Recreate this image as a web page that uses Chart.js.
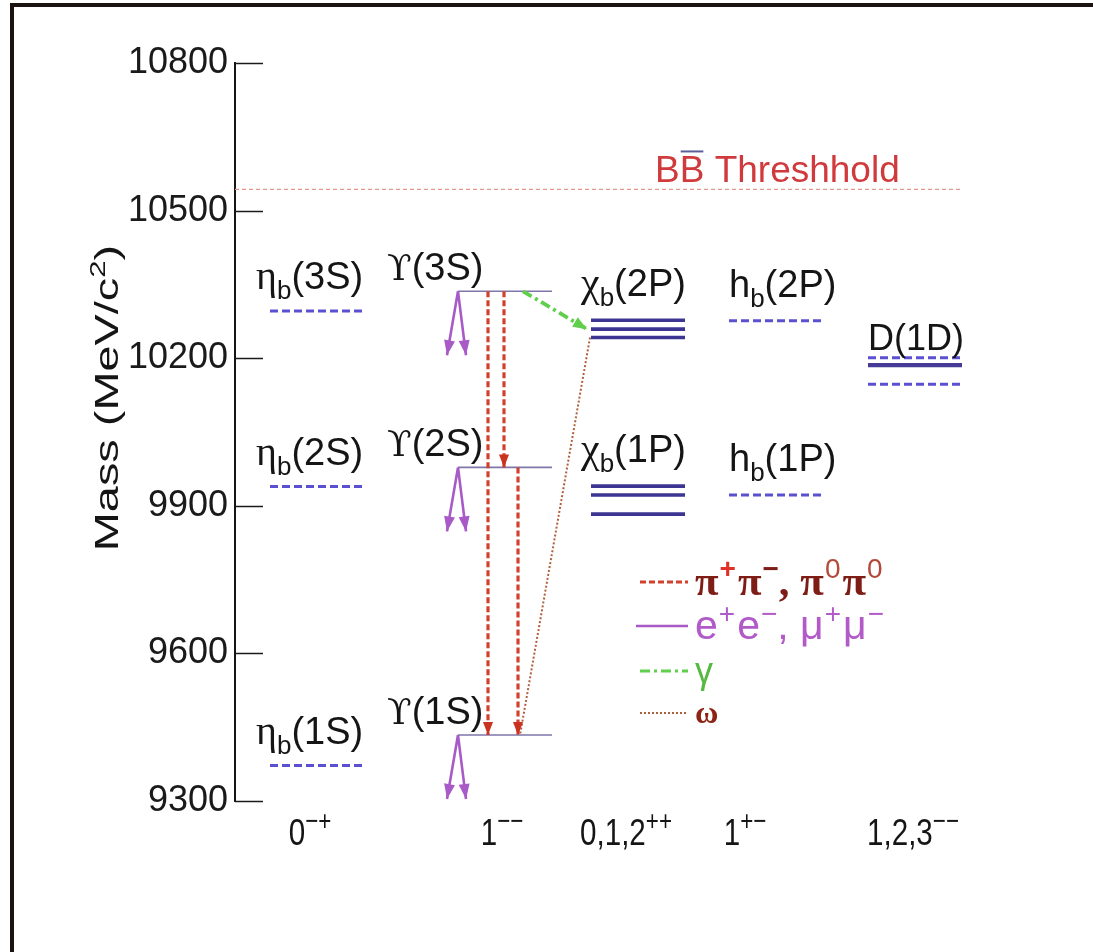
<!DOCTYPE html>
<html><head><meta charset="utf-8">
<script src="https://cdn.jsdelivr.net/npm/chart.js@4.4.1/dist/chart.umd.min.js"></script>
<style>html,body{margin:0;padding:0;background:#fff;}canvas{display:block;}</style>
</head><body>
<canvas id="c" width="1093" height="952"></canvas>
<script>
// ---------------- data ----------------
const yTicks = [9300, 9600, 9900, 10200, 10500, 10800];
const jpcBase = ['0', '1', '0,1,2', '1', '1,2,3'];
const jpcSup  = ['\u2212+', '\u2212\u2212', '++', '+\u2212', '\u2212\u2212'];
const etaBStates = ['3S', '2S', '1S'];
const etaBMass   = [10296, 9939, 9372];
const upsStates  = ['3S', '2S', '1S'];
const upsMass    = [10336, 9978, 9434];
const chiB2PMass = [10277, 10259, 10242];
const chiB1PMass = [9940, 9922, 9883];
const hBStates   = ['2P', '1P'];
const hBMass     = [10276, 9922];
const d1DMass    = [10201, 10186, 10147];
const d1DSolid   = [false, true, false];
const bbThreshold = 10543;
const pipiFrom = ['3S', '3S', '2S'];
const pipiTo   = ['1S', '2S', '1S'];

// ---------------- layout (positions / sizes, not data) ----------------
const L = {
  colX: [0.82, 2.70, 4.03, 5.41, 6.80], halfW: 0.47,
  jpcX: [0.75, 2.67, 3.91, 5.10, 6.78],
  pipiDx: [-0.17, -0.01, 0.13], gammaDx0: 0.18, omegaDx1: 0.15,
  lepDrop: 130, lepL: -0.11, lepR: 0.08, thrEnd: 7.28
};
const cx = L.colX, hw = L.halfW;
function segs(list) {
  const out = [];
  list.forEach(([x1, y1, x2, y2]) => { out.push({x: x1, y: y1}, {x: x2, y: y2}, {x: x2, y: null}); });
  out.pop();
  return out;
}
const lvl = (c, m) => [cx[c] - hw, m, cx[c] + hw, m];
const upsBy = Object.fromEntries(upsStates.map((s, i) => [s, upsMass[i]]));

const dashedLevels = segs([
  ...etaBMass.map(m => lvl(0, m)),
  ...hBMass.map(m => lvl(3, m)),
  ...d1DMass.filter((m, i) => !d1DSolid[i]).map(m => lvl(4, m))
]);
const chiLevels = segs([...chiB2PMass, ...chiB1PMass].map(m => lvl(2, m)));
const dSolid = segs(d1DMass.filter((m, i) => d1DSolid[i]).map(m => lvl(4, m)));
const upsLevels = segs(upsMass.map(m => lvl(1, m)));
const pipi = segs(pipiFrom.map((f, i) => [cx[1] + L.pipiDx[i], upsBy[f], cx[1] + L.pipiDx[i], upsBy[pipiTo[i]]]));
const gamma = segs([[cx[1] + L.gammaDx0, upsMass[0], cx[2] - hw - 0.04, chiB2PMass[1]]]);
const omega = segs([[cx[2] - hw - 0.01, chiB2PMass[2], cx[1] + L.omegaDx1, upsMass[2]]]);
const lepton = segs(upsMass.flatMap(m => [
  [cx[1] - hw, m, cx[1] - hw + L.lepL, m - L.lepDrop],
  [cx[1] - hw, m, cx[1] - hw + L.lepR, m - L.lepDrop]]));
const threshold = [{x: 0, y: bbThreshold}, {x: L.thrEnd, y: bbThreshold}];

const base = {showLine: true, pointRadius: 0, pointHoverRadius: 0, spanGaps: false, fill: false, tension: 0};
const datasets = [
  {...base, label: 'pipi', data: pipi, borderColor: '#d2412f', borderWidth: 3.2, borderDash: [6, 3], order: 1, arrowHead: {len: 13, w: 10, c: '#c8321f'}},
  {...base, label: 'gamma', data: gamma, borderColor: '#5fcf4c', borderWidth: 3.8, borderDash: [10, 4, 3, 4], order: 1, arrowHead: {len: 14, w: 11, c: '#5fcf4c'}},
  {...base, label: 'omega', data: omega, borderColor: '#b0603c', borderWidth: 2, borderDash: [2, 2], order: 2},
  {...base, label: 'lepton', data: lepton, borderColor: '#a85ac6', borderWidth: 2.6, order: 2, arrowHead: {len: 15, w: 11, c: '#a85ac6'}},
  {...base, label: 'ups', data: upsLevels, borderColor: '#7f76aa', borderWidth: 1.6, order: 5},
  {...base, label: 'chi', data: chiLevels, borderColor: '#3c3592', borderWidth: 3.6, order: 5},
  {...base, label: 'dsolid', data: dSolid, borderColor: '#463c98', borderWidth: 4.2, order: 5},
  {...base, label: 'dashed', data: dashedLevels, borderColor: '#5b50d0', borderWidth: 3, borderDash: [8, 4], order: 5},
  {...base, label: 'thr', data: threshold, borderColor: '#e69494', borderWidth: 1.2, borderDash: [4, 3], order: 9}
];

// ---------------- text helpers ----------------
const SANS = "'Liberation Sans', Arial, Helvetica, sans-serif";
const SERIF = "'Liberation Serif', 'Times New Roman', serif";
function rich(ctx, x, y, parts, sx = 1, align = 'left') {
  ctx.save();
  ctx.textBaseline = 'alphabetic'; ctx.textAlign = 'left';
  let w = 0;
  parts.forEach(p => { ctx.font = p.f; w += ctx.measureText(p.t).width + (p.gap || 0); });
  ctx.translate(x, y); ctx.scale(sx, 1);
  let px = align === 'center' ? -w / 2 : 0;
  parts.forEach(p => {
    ctx.font = p.f; ctx.fillStyle = p.c || '#151515';
    ctx.fillText(p.t, px, p.dy || 0);
    px += ctx.measureText(p.t).width + (p.gap || 0);
  });
  ctx.restore();
  return w * sx;
}

const deco = {
  id: 'deco',
  beforeDraw(chart) {
    const ctx = chart.ctx;
    ctx.save();
    ctx.fillStyle = '#fff'; ctx.fillRect(0, 0, chart.width, chart.height);
    ctx.fillStyle = '#1c1212';
    ctx.fillRect(10, 3, chart.width - 10, 4);
    ctx.fillRect(10, 3, 4, chart.height - 3);
    ctx.restore();
  },
  afterDatasetsDraw(chart) {
    const ctx = chart.ctx;
    chart.data.datasets.forEach((ds, di) => {
      if (!ds.arrowHead) return;
      const pts = chart.getDatasetMeta(di).data, d = ds.data, h = ds.arrowHead;
      for (let i = 1; i < d.length; i++) {
        if (d[i].y == null || d[i - 1].y == null) continue;
        if (i < d.length - 1 && d[i + 1].y != null) continue;
        const a = pts[i - 1], b = pts[i];
        const ang = Math.atan2(b.y - a.y, b.x - a.x);
        ctx.save();
        ctx.translate(b.x, b.y); ctx.rotate(ang);
        ctx.fillStyle = h.c;
        ctx.beginPath(); ctx.moveTo(0, 0); ctx.lineTo(-h.len, -h.w / 2); ctx.lineTo(-h.len, h.w / 2); ctx.closePath(); ctx.fill();
        ctx.restore();
      }
    });
  },
  afterDraw(chart) {
    const ctx = chart.ctx, xs = chart.scales.x, ys = chart.scales.y;
    const X = v => xs.getPixelForValue(v), Y = v => ys.getPixelForValue(v);
    // inward tick marks
    ctx.save(); ctx.strokeStyle = '#1a1a1a'; ctx.lineWidth = 1.5;
    yTicks.forEach(v => { const y = Math.round(Y(v)) + 0.5; ctx.beginPath(); ctx.moveTo(xs.left, y); ctx.lineTo(xs.left + 28, y); ctx.stroke(); });
    ctx.restore();

    // y-axis title (stretched along its length like the picture)
    ctx.save();
    ctx.translate(106, 398); ctx.rotate(-Math.PI / 2);
    rich(ctx, 0, 12, [
      {t: 'Mass (MeV/c', f: '33px ' + SANS},
      {t: '2', f: '22px ' + SANS, dy: -13},
      {t: ')', f: '33px ' + SANS}], 1.42, 'center');
    ctx.restore();

    const LBL = '38px ' + SANS, SUB = '26px ' + SANS;
    etaBStates.forEach((s, i) => rich(ctx, X(cx[0] - hw) - 14, Y(etaBMass[i]) - 22, [
      {t: '\u03B7', f: '40px ' + SERIF}, {t: 'b', f: SUB, dy: 10}, {t: '(' + s + ')', f: LBL}]));
    upsStates.forEach((s, i) => rich(ctx, X(cx[1] - hw) - 71, Y(upsMass[i]) - 11, [
      {t: '\u03D2', f: "36px 'DejaVu Serif', serif"}, {t: '(' + s + ')', f: LBL}]));
    [['2P', chiB2PMass], ['1P', chiB1PMass]].forEach(([s, arr]) => rich(ctx, X(cx[2] - hw) - 10, Y(Math.max(...arr)) - 24, [
      {t: '\u03C7', f: '42px ' + SERIF}, {t: 'b', f: SUB, dy: 10}, {t: '(' + s + ')', f: LBL}]));
    hBStates.forEach((s, i) => rich(ctx, X(cx[3] - hw), Y(hBMass[i]) - 24, [
      {t: 'h', f: LBL}, {t: 'b', f: SUB, dy: 10}, {t: '(' + s + ')', f: LBL}]));
    rich(ctx, X(cx[4] - hw), Y(Math.max(...d1DMass)) - 8, [{t: 'D(1D)', f: '36px ' + SANS}]);

    // BB threshold label
    const tx = X(4.20), ty = Y(bbThreshold) - 7, TF = '37px ' + SANS;
    ctx.save(); ctx.font = TF; const wB = ctx.measureText('B').width; ctx.restore();
    rich(ctx, tx, ty, [{t: 'BB Threshhold', f: TF, c: '#d03a3c'}], 1.0);
    ctx.save(); ctx.strokeStyle = '#5a5f9a'; ctx.lineWidth = 2;
    ctx.beginPath(); ctx.moveTo(tx + wB + 1, ty - 31); ctx.lineTo(tx + 2 * wB - 1, ty - 31); ctx.stroke(); ctx.restore();

    // J^PC labels
    jpcBase.forEach((b, i) => rich(ctx, X(L.jpcX[i]), 845, [
      {t: b, f: '37px ' + SANS}, {t: jpcSup[i], f: '28px ' + SANS, dy: -15}], 0.8, 'center'));

    // legend
    const rows = [582, 626, 671, 713], lx0 = 640, lx1 = 688, tx0 = 695;
    ctx.save();
    ctx.lineWidth = 3; ctx.strokeStyle = '#d2412f'; ctx.setLineDash([6, 3]);
    ctx.beginPath(); ctx.moveTo(lx0, rows[0]); ctx.lineTo(lx1, rows[0]); ctx.stroke();
    ctx.setLineDash([]); ctx.strokeStyle = '#a85ac6'; ctx.lineWidth = 2.5;
    ctx.beginPath(); ctx.moveTo(lx0 - 4, rows[1]); ctx.lineTo(lx1, rows[1]); ctx.stroke();
    ctx.setLineDash([10, 4, 3, 4]); ctx.strokeStyle = '#5fcf4c'; ctx.lineWidth = 3;
    ctx.beginPath(); ctx.moveTo(lx0, rows[2]); ctx.lineTo(lx1, rows[2]); ctx.stroke();
    ctx.setLineDash([2, 2]); ctx.strokeStyle = '#b0603c'; ctx.lineWidth = 2;
    ctx.beginPath(); ctx.moveTo(lx0, rows[3]); ctx.lineTo(lx1, rows[3]); ctx.stroke();
    ctx.restore();
    const PI = 'bold 43px ' + SERIF, SUP = 'bold 28px ' + SANS, dr = '#7e1c16';
    rich(ctx, tx0, rows[0] + 13, [
      {t: '\u03C0', f: PI, c: dr, gap: 1}, {t: '+', f: SUP, c: '#e0302a', dy: -17, gap: 2},
      {t: '\u03C0', f: PI, c: dr, gap: 1}, {t: '\u2212', f: SUP, c: dr, dy: -17},
      {t: ', ', f: PI, c: dr},
      {t: '\u03C0', f: PI, c: dr, gap: 1}, {t: '0', f: '28px ' + SANS, c: '#b24a3a', dy: -17, gap: 2},
      {t: '\u03C0', f: PI, c: dr, gap: 1}, {t: '0', f: '28px ' + SANS, c: '#b24a3a', dy: -17}]);
    const E = '41px ' + SANS, ES = '28px ' + SANS, pc = '#b25ac8';
    rich(ctx, tx0, rows[1] + 13, [
      {t: 'e', f: E, c: pc, gap: 1}, {t: '+', f: ES, c: pc, dy: -16, gap: 2},
      {t: 'e', f: E, c: pc, gap: 1}, {t: '\u2212', f: ES, c: pc, dy: -16},
      {t: ', ', f: E, c: pc},
      {t: '\u03BC', f: E, c: pc, gap: 1}, {t: '+', f: ES, c: pc, dy: -16, gap: 2},
      {t: '\u03BC', f: E, c: pc, gap: 1}, {t: '\u2212', f: ES, c: pc, dy: -16}]);
    rich(ctx, tx0, rows[2] + 12, [{t: '\u03B3', f: '36px ' + SANS, c: '#55b944'}]);
    rich(ctx, tx0, rows[3] + 10, [{t: '\u03C9', f: 'bold 32px ' + SERIF, c: '#8e2414'}]);
  }
};

new Chart(document.getElementById('c'), {
  type: 'scatter',
  data: {datasets},
  options: {
    responsive: false, animation: false, devicePixelRatio: 1,
    layout: {padding: {left: 0, top: 63, right: 58, bottom: 151}},
    plugins: {legend: {display: false}, tooltip: {enabled: false}},
    events: [],
    scales: {
      x: {type: 'linear', min: 0, max: 8, display: false},
      y: {
        type: 'linear', min: 9300, max: 10800,
        afterBuildTicks: s => { s.ticks = yTicks.map(v => ({value: v})); },
        afterFit: s => { s.width = 235; },
        grid: {display: false, drawTicks: false},
        border: {display: true, color: '#151515', width: 2},
        ticks: {color: '#1a1a1a', padding: 7, callback: v => String(v),
                font: {family: "'Liberation Sans', Arial, sans-serif", size: 36}}
      }
    }
  },
  plugins: [deco]
});
</script>
</body></html>
